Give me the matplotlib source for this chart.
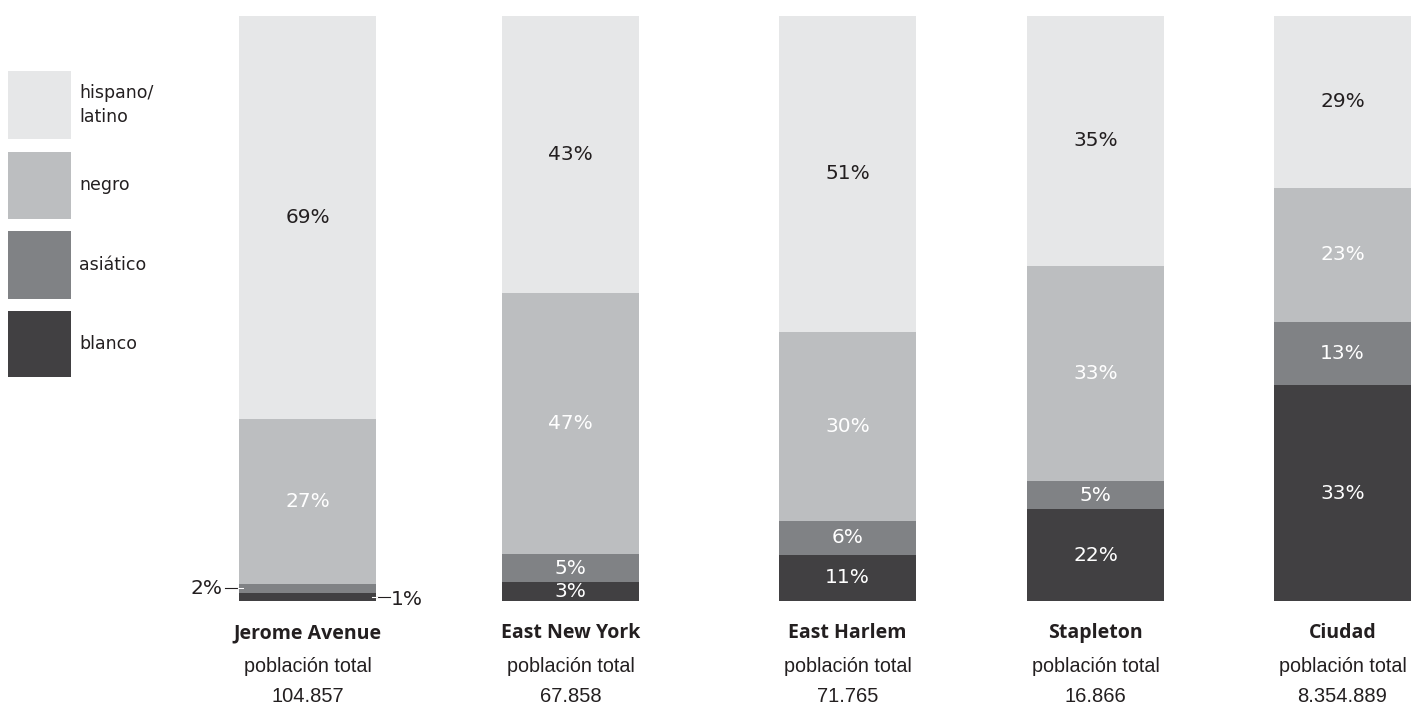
import matplotlib
matplotlib.use("Agg")
import matplotlib.pyplot as plt
from matplotlib.patches import Rectangle
import numpy as np

# ---- data ----
areas = ["Jerome Avenue", "East New York", "East Harlem", "Stapleton", "Ciudad"]
populations = ["104.857", "67.858", "71.765", "16.866", "8.354.889"]
groups = ["hispano/\nlatino", "negro", "asiático", "blanco"]
# segment shares as drawn (percent of bar height)
hispano = [68.9, 47.4, 54.0, 42.7, 29.4]
negro = [28.2, 44.6, 32.3, 36.8, 22.9]
asiatico = [1.5, 4.8, 5.8, 4.8, 10.8]
blanco = [1.4, 3.2, 7.9, 15.7, 36.9]
# printed labels
lab_hispano = ["69%", "43%", "51%", "35%", "29%"]
lab_negro = ["27%", "47%", "30%", "33%", "23%"]
lab_asiatico = ["2%", "5%", "6%", "5%", "13%"]
lab_blanco = ["1%", "3%", "11%", "22%", "33%"]

# ---- style / layout ----
colors = ["#e6e7e8", "#bcbec0", "#808285", "#414042"]
text_dark = "#231f20"
label_colors = [text_dark, "white", "white", "white"]
x_centers = [307.5, 570.5, 847.5, 1095.5, 1342.5]
bar_w = 137
W, H = 1411, 706
top_px, bot_px = 16, 601
pct_size = 14.5

fig = plt.figure(figsize=(W / 100, H / 100), dpi=100)
ax = fig.add_axes([0, (H - bot_px) / H, 1, (bot_px - top_px) / H])
ax.set_xlim(0, W)
ax.axis("off")

series = [blanco, asiatico, negro, hispano]
labels = [lab_blanco, lab_asiatico, lab_negro, lab_hispano]
cols = colors[::-1]
lcols = label_colors[::-1]

tot = np.sum(np.array(series), axis=0)
bottom = np.zeros(len(areas))
for vals, labs, c, lc, k in zip(series, labels, cols, lcols, range(4)):
    v = np.array(vals) / tot * 100
    ax.bar(x_centers, v, width=bar_w, bottom=bottom, color=c, linewidth=0)
    for i in range(len(areas)):
        if i == 0 and k in (0, 1):
            continue
        ax.text(x_centers[i], bottom[i] + v[i] / 2, labs[i], ha="center", va="center",
                color=lc, fontsize=pct_size, family="DejaVu Sans")
    bottom += v
ax.set_ylim(0, 100)

# overlay in pixel coordinates
ov = fig.add_axes([0, 0, 1, 1])
ov.set_xlim(0, W)
ov.set_ylim(H, 0)
ov.axis("off")
ov.patch.set_alpha(0)

# Jerome Avenue callouts for tiny segments
b0 = blanco[0] / tot[0] * 100
a0 = asiatico[0] / tot[0] * 100
xl = x_centers[0] - bar_w / 2
xr = x_centers[0] + bar_w / 2
ax.plot([xl - 14, xl + 4], [b0 + a0 / 2] * 2, color=text_dark, lw=0.8, clip_on=False)
ax.plot([xl - 1, xl + 4], [b0 + a0 / 2] * 2, color="white", lw=0.8, clip_on=False)
ax.text(xl - 16, b0 + a0 / 2, lab_asiatico[0], ha="right", va="center", color=text_dark,
        fontsize=pct_size, family="DejaVu Sans", clip_on=False)
ax.plot([xr - 4, xr + 14], [b0 / 2] * 2, color=text_dark, lw=0.8, clip_on=False)
ax.plot([xr - 4, xr + 1], [b0 / 2] * 2, color="white", lw=0.8, clip_on=False)
ax.text(xr + 15, b0 / 2 - 0.5, lab_blanco[0], ha="left", va="center", color=text_dark,
        fontsize=pct_size, family="DejaVu Sans", clip_on=False)

# area names and populations
for x, name, pop in zip(x_centers, areas, populations):
    ov.text(x, 633, name, ha="center", va="center", fontsize=14, fontweight="bold",
            color=text_dark, family="Open Sans")
    ov.text(x, 667, "población total", ha="center", va="center", fontsize=14.2,
            color=text_dark, family="Liberation Sans")
    ov.text(x, 697, pop, ha="center", va="center", fontsize=14.5,
            color=text_dark, family="Liberation Sans")

# legend
leg_boxes = [(71, 139), (152, 219), (231, 299), (311, 377)]
for (y0, y1), c, g in zip(leg_boxes, colors, groups):
    ov.add_patch(Rectangle((8, y0), 63, y1 - y0, color=c, lw=0))
    ov.text(79, (y0 + y1) / 2, g, ha="left", va="center", fontsize=12.5,
            color=text_dark, family="DejaVu Sans", linespacing=1.45)

fig.savefig("out.png", dpi=100)
